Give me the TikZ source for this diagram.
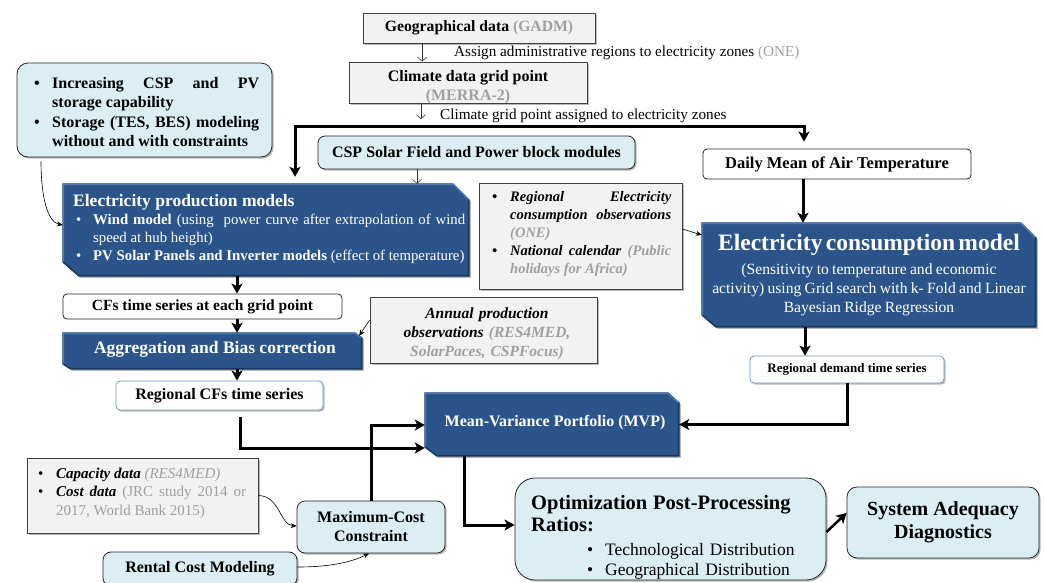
\documentclass[tikz,border=0pt]{standalone}
\usepackage{fontspec}
\setmainfont{Liberation Serif}
\usetikzlibrary{arrows.meta,shadows,calc}
\definecolor{dblue}{HTML}{2B558A}
\definecolor{dbluedraw}{HTML}{1F4272}
\definecolor{dhigh}{HTML}{4E7AB2}
\definecolor{dlow}{HTML}{1B365C}
\definecolor{lblue}{HTML}{DAEEF3}
\definecolor{gfill}{HTML}{F2F2F2}
\definecolor{gdraw}{HTML}{404040}
\definecolor{gtxt}{HTML}{A0A0A0}
\definecolor{bborder}{HTML}{6F94C6}
\newcommand\fs[2]{\fontsize{#1}{#2}\selectfont}
\newcommand\bitem[3]{\noindent\hangindent=#2\hangafter=1 \hbox to #2{\hskip#1\textbullet\hss}#3\par}
% #1 node, #2 top-right x cut, #3 top-right y cut, #4 bottom-left y cut, #5 bottom-left x cut
\newcommand\darkpoly[5]{%
  \path[darkshape] (#1.north west) -- ([xshift=-#2pt]#1.north east) -- ([yshift=-#3pt]#1.north east) -- (#1.south east) -- ([xshift=#5pt]#1.south west) -- ([yshift=#4pt]#1.south west) -- cycle;
  \draw[line width=1.3pt,dhigh,line cap=round] ([yshift=#4pt,xshift=0.7pt]#1.south west) -- ([xshift=0.7pt,yshift=-0.7pt]#1.north west) -- ([xshift=-#2pt,yshift=-0.7pt]#1.north east) -- ([yshift=-#3pt,xshift=-0.7pt]#1.north east);
  \draw[line width=1.3pt,dlow,line cap=round] ([yshift=-#3pt,xshift=-0.7pt]#1.north east) -- ([xshift=-0.7pt,yshift=0.7pt]#1.south east) -- ([xshift=#5pt,yshift=0.7pt]#1.south west) -- ([yshift=#4pt,xshift=0.7pt]#1.south west);}
\begin{document}
\begin{tikzpicture}[x=1pt,y=-1pt,
  sz/.style 2 args={minimum width=#1pt,minimum height=#2pt},
  shadowed/.style={drop shadow={shadow xshift=1.6pt,shadow yshift=-1.6pt,opacity=0.35,fill=black!80}},
  graybox/.style={draw=gdraw,fill=gfill,line width=0.8pt,shadowed,inner sep=0},
  lbbox/.style={draw=black!85,fill=lblue,line width=0.8pt,rounded corners=7pt,shadowed,inner sep=0},
  whitebox/.style={draw=black!85,fill=white,line width=0.8pt,rounded corners=4pt,inner sep=0},
  bluebox/.style={draw=bborder,fill=white,line width=0.8pt,rounded corners=4pt,inner sep=0,shadowed},
  darkshape/.style={fill=dblue,draw=dbluedraw,line width=0.8pt,shadowed},
  thickarr/.style={line width=3pt,-{Stealth[length=10pt,width=11pt,inset=2.5pt]}},
  thinarr/.style={line width=0.6pt,draw=black!80,-{Straight Barb[length=4pt,width=9pt]}},
  smallarr/.style={line width=0.6pt,-{Stealth[length=6pt,width=5pt]}},
  lbl/.style={inner sep=0}
]
\useasboundingbox (0,0) rectangle (1044,582);
\clip (0,0) rectangle (1044,582);

% ---------- top chain
\node[graybox,sz={232}{30},font=\fs{15.7}{19}\bfseries] (geo) at (479,28) {Geographical data \textcolor{gtxt}{(GADM)}};
\node[lbl,anchor=base west,font=\fs{15.2}{17}] (assignlbl) at (454,56.5) {Assign administrative regions to electricity zones \textcolor{gtxt}{(ONE)}};
\node[graybox,sz={238}{41}] (clim) at (468,82.5) {};
\node[lbl,font=\fs{16}{19}\bfseries] (climtxt) at (468,78) {Climate data grid point};
\node[lbl,font=\fs{16}{19}\bfseries,text=gtxt] (merra) at (468,97) {(MERRA-2)};
\coordinate (climend) at (421,119);
\node[lbl,anchor=base west,font=\fs{15.2}{17}] (climlbl) at (440,119.5) {Climate grid point assigned to electricity zones};
\draw[thinarr] (422,0 |- geo.south) -- (422,0 |- clim.north);
\draw[thinarr] (421,0 |- clim.south) -- (climend);

% ---------- storage
\node[lbbox,rounded corners=11pt,sz={255}{94}] (stor) at (144.5,110) {};
\node[lbl,anchor=north west,text width=225pt,align=justify,font=\fs{16}{19.5}\bfseries] (stortxt) at (34,77)
 {\bitem{0pt}{18pt}{Increasing CSP and PV\linebreak storage capability}\bitem{0pt}{18pt}{Storage (TES, BES) modeling without and with constraints}};

% ---------- CSP, daily
\node[lbbox,sz={317}{33},font=\fs{16}{19}\bfseries] (csp) at (476.5,152.5) {CSP Solar Field and Power block modules};
\node[whitebox,sz={268}{30},font=\fs{16.5}{19}\bfseries] (daily) at (837,164) {Daily Mean of Air Temperature};

% ---------- production model
\node[lbl,sz={406}{92}] (prod) at (266,230) {};
\darkpoly{prod}{16}{16}{14}{16}
\node[lbl,anchor=north west,text width=392pt,align=justify,text=white,font=\fs{14.8}{18}] (prodtxt) at (73,194.5)
 {\noindent{\fs{17.5}{18}\bfseries Electricity production models\par}\bitem{3pt}{20pt}{\textbf{Wind model} (using\ \ power curve after extrapolation of wind\linebreak speed at hub height)}\bitem{3pt}{20pt}{\textbf{PV Solar Panels and Inverter models} (effect of temperature)}};

% bus
\coordinate (busw) at (295,126);
\coordinate (buse) at (804,126);
\draw[line width=3pt,{Stealth[length=10pt,width=11pt,inset=2.5pt]}-{Stealth[length=10pt,width=11pt,inset=2.5pt]},shorten <=7pt,shorten >=7pt] (busw |- prod.north) -- (busw) -- (buse) -- (buse |- daily.north);
\draw[thinarr] (417,0 |- csp.south) -- (417,0 |- prod.north);
\draw[smallarr,shorten <=4pt] (41,0 |- stor.south) .. controls (41,195) and (47,222) .. ([yshift=5pt]prod.west);

% ---------- regional electricity obs
\node[graybox,sz={203}{106}] (relec) at (580.5,236) {};
\node[lbl,anchor=north west,text width=179pt,align=justify,font=\fs{14.5}{18}\bfseries\itshape] (relectxt) at (492,191.6)
 {\bitem{0pt}{18pt}{Regional Electricity\linebreak consumption observations \textcolor{gtxt}{(ONE)}}\bitem{0pt}{18pt}{National calendar \textcolor{gtxt}{(Public\linebreak holidays for Africa)}}};

% ---------- consumption model
\node[lbl,sz={334}{104}] (cons) at (869,275) {};
\darkpoly{cons}{15}{15}{12}{14}
\node[lbl,anchor=north,text width=345pt,align=center,text=white] (constxt) at (869,234.3)
 {{\fs{23.5}{24}\bfseries Electricity consumption model\par}\vspace{4.3pt}{\fs{15.6}{19}(Sensitivity to temperature and economic\\activity) using Grid search with k- Fold and Linear\\Bayesian Ridge Regression\par}};
\draw[smallarr] ([yshift=7pt]relec.east) -- ([yshift=40pt]cons.west);
\draw[thickarr] (803,0 |- daily.south) -- (803,0 |- cons.north);

\node[bluebox,sz={194}{27},font=\fs{13}{16}\bfseries] (rdem) at (847,369.5) {Regional demand time series};
\draw[thickarr] (805,0 |- cons.south) -- (805,0 |- rdem.north);

% ---------- CFs chain
\node[whitebox,sz={279}{25},font=\fs{15.5}{18}\bfseries] (cfs) at (202.5,306.5) {CFs time series at each grid point};
\node[lbl,sz={299}{36}] (agg) at (212.5,351) {};
\darkpoly{agg}{7}{5}{5}{8}
\node[lbl,text=white,font=\fs{17.5}{20}\bfseries] (aggtxt) at (215,349) {Aggregation and Bias correction};
\node[bluebox,sz={207}{29},font=\fs{16}{19}\bfseries] (rcfs) at (219.5,395.5) {Regional CFs time series\hspace{10pt}};
\draw[thickarr] (237,0 |- prod.south) -- (237,0 |- cfs.north);
\draw[thickarr] (237,0 |- cfs.south) -- (237,0 |- agg.north);
\draw[thickarr] (237,0 |- agg.south) -- (237,0 |- rcfs.north);

\node[graybox,sz={227}{66}] (annual) at (483.5,330) {};
\node[lbl,anchor=north,text width=220pt,align=center,font=\fs{15.5}{19}\bfseries\itshape] (annualtxt) at (487,307.3)
 {Annual production\\observations \textcolor{gtxt}{(RES4MED,}\\\textcolor{gtxt}{SolarPaces, CSPFocus)}};
\draw[smallarr] ([yshift=10pt]annual.west) -- ([xshift=-3pt,yshift=-3pt]agg.north east);

% ---------- MVP
\node[lbl,sz={254}{63}] (mvp) at (552,424.5) {};
\darkpoly{mvp}{11}{10}{9}{12}
\node[lbl,text=white,font=\fs{16}{19}\bfseries] (mvptxt) at (555,423) {Mean-Variance Portfolio (MVP)};

\coordinate (rc1) at ([xshift=20.5pt]rcfs.south);
\draw[thickarr,shorten <=7pt] (rc1) -- (rc1 |- 0,448) -- (mvp.west |- 0,448);
\draw[thickarr] (rdem.south) -- (rdem.south |- mvp.east) -- (mvp.east);

% ---------- bottom left
\node[graybox,sz={231}{75}] (cap) at (142.5,495.5) {};
\node[lbl,anchor=north west,text width=208pt,align=justify,font=\fs{15}{18.5}] (captxt) at (38,467.5)
 {\bitem{0pt}{18pt}{\textbf{\textit{Capacity data}} \textcolor{gtxt}{\textit{(RES4MED)}}}\bitem{0pt}{18pt}{\textbf{\textit{Cost data}} \textcolor{gtxt}{(JRC study 2014 or\linebreak 2017, World Bank 2015)}}};
\node[lbbox,rounded corners=8pt,sz={148}{52},align=center,font=\fs{16}{19}\bfseries] (maxc) at (371,527) {Maximum-Cost\\Constraint};
\node[lbbox,rounded corners=8pt,sz={194}{34},font=\fs{16}{19}\bfseries] (rent) at (200,569) {Rental Cost Modeling};
\draw[smallarr] (cap.east) .. controls (280,496) and (280,525) .. ([yshift=1pt]maxc.west);
\draw[smallarr] ([yshift=2pt]rent.east) .. controls (330,567) and (352,562) .. ([xshift=-2pt]maxc.south);
\draw[thickarr] (maxc.north) -- (maxc.north |- 0,425) -- (mvp.west |- 0,425);

% ---------- optimisation and adequacy
\node[lbbox,rounded corners=20pt,sz={311}{102}] (opt) at (670.5,529) {};
\node[lbl,anchor=north west,text width=290pt,align=left,font=\fs{17.5}{20}] (opttxt) at (531,495.4)
 {{\noindent\fs{20.5}{22}\bfseries Optimization Post-Processing\\Ratios:\par}\vspace{3.8pt}\bitem{56pt}{74pt}{Technological Distribution}\bitem{56pt}{74pt}{Geographical Distribution}};
\draw[thickarr] (464,0 |- mvp.south) -- (464,525) -- (opt.west |- 0,525);
\node[lbbox,rounded corners=10pt,sz={192}{71},align=center,font=\fs{20}{23}\bfseries] (sys) at (943,522.5) {System Adequacy\\Diagnostics};
\draw[thickarr,line width=2.5pt] ([yshift=-3pt]opt.east) -- ([yshift=9.5pt]sys.west);
\end{tikzpicture}
\end{document}
